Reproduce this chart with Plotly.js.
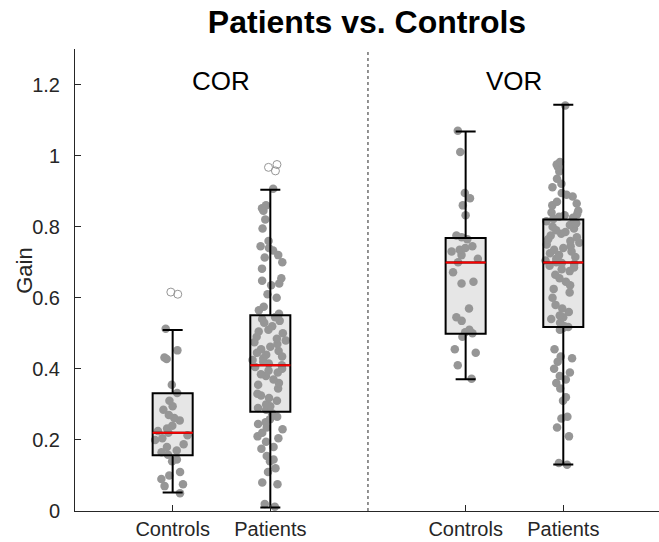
<!DOCTYPE html>
<html>
<head>
<meta charset="utf-8">
<script src="https://cdn.plot.ly/plotly-3.0.1.min.js"></script>
<style>html,body{margin:0;padding:0;background:#fff;}#chart{width:659px;height:542px;}</style>
</head>
<body>
<div id="chart"></div>
<script>
// ---- data ----
const positions = [1, 2, 4, 5];
const tickLabels = ['Controls', 'Patients', 'Controls', 'Patients'];
const groupLabels = ['COR', 'VOR'];
const groupCenters = [1.5, 4.5];
const dividerX = 3;
const yTicks = [0, 0.2, 0.4, 0.6, 0.8, 1, 1.2];
const yTickLabels = ['0', '0.2', '0.4', '0.6', '0.8', '1', '1.2'];

const boxQ1 = [0.157, 0.279, 0.499, 0.518];
const boxMedian = [0.220, 0.410, 0.699, 0.699];
const boxQ3 = [0.331, 0.551, 0.768, 0.820];
const boxLower = [0.052, 0.010, 0.371, 0.131];
const boxUpper = [0.509, 0.904, 1.068, 1.143];

const corControls = [0.513, 0.452, 0.432, 0.428, 0.355, 0.332, 0.31, 0.295, 0.285, 0.27, 0.262, 0.255, 0.24, 0.232, 0.225, 0.22, 0.213, 0.205, 0.2, 0.188, 0.18, 0.17, 0.165, 0.158, 0.145, 0.14, 0.11, 0.1, 0.09, 0.075, 0.07, 0.05];
const corPatients = [0.907, 0.86, 0.852, 0.845, 0.82, 0.795, 0.76, 0.745, 0.74, 0.733, 0.72, 0.713, 0.70, 0.682, 0.655, 0.648, 0.64, 0.635, 0.61, 0.60, 0.575, 0.565, 0.555,
  0.545, 0.54, 0.535, 0.53, 0.52, 0.51, 0.505, 0.50, 0.49, 0.485, 0.48, 0.475, 0.47, 0.462, 0.455, 0.45, 0.445, 0.44, 0.435, 0.43, 0.425, 0.42, 0.415, 0.41, 0.405, 0.40, 0.395, 0.39, 0.385, 0.38, 0.37, 0.36, 0.355, 0.345, 0.33, 0.325, 0.318, 0.31, 0.30, 0.295, 0.29, 0.285,
  0.275, 0.265, 0.258, 0.25, 0.245, 0.235, 0.23, 0.22, 0.21, 0.205, 0.195, 0.18, 0.175, 0.155, 0.145, 0.14, 0.12, 0.11, 0.08, 0.075, 0.02, 0.012];
const vorControls = [1.07, 1.01, 0.895, 0.88, 0.86, 0.832, 0.775, 0.77, 0.765, 0.745, 0.74, 0.735, 0.73, 0.72, 0.71, 0.70, 0.672, 0.645, 0.64, 0.57, 0.545, 0.535, 0.51, 0.503, 0.50, 0.49, 0.455, 0.445, 0.41, 0.372];
const vorPatients = [1.141, 0.982, 0.975, 0.968, 0.955, 0.935, 0.921, 0.911, 0.895, 0.89, 0.885, 0.87, 0.865, 0.86, 0.845, 0.84, 0.835, 0.832, 0.828, 0.825, 0.822,
  0.815, 0.81, 0.805, 0.80, 0.795, 0.79, 0.785, 0.78, 0.775, 0.77, 0.765, 0.76, 0.755, 0.75, 0.745, 0.74, 0.735, 0.73, 0.725, 0.72, 0.715, 0.71, 0.705, 0.70, 0.698, 0.695, 0.69, 0.685, 0.68, 0.675, 0.665, 0.655, 0.645, 0.635, 0.625, 0.615, 0.60, 0.58, 0.57, 0.56, 0.55, 0.545, 0.54, 0.53,
  0.52, 0.518, 0.515, 0.51, 0.455, 0.435, 0.43, 0.42, 0.40, 0.39, 0.38, 0.37, 0.36, 0.345, 0.32, 0.31, 0.265, 0.26, 0.235, 0.21, 0.135, 0.13];
const corControlsOutliers = [0.616, 0.610];
const corPatientsOutliers = [0.975, 0.967, 0.957];

const samples = [corControls, corPatients, vorControls, vorPatients];
const outliers = [corControlsOutliers, corPatientsOutliers, [], []];

// ---- style ----
const BOXW = 0.41;
const axisColor = '#262626';
const font = 'Liberation Sans, Arial, Helvetica, sans-serif';
const pointColor = 'rgb(150,150,150)';
const clear = 'rgba(0,0,0,0)';

const traces = [];
// box fill
traces.push({
  type: 'box', x: positions, q1: boxQ1, median: boxMedian, q3: boxQ3,
  lowerfence: boxLower, upperfence: boxUpper,
  width: BOXW, whiskerwidth: 0.5, fillcolor: 'rgb(230,230,230)',
  line: {color: clear, width: 0}, hoverinfo: 'skip', showlegend: false
});
// jittered points
samples.forEach((s, i) => {
  traces.push({
    type: 'box', x0: positions[i], y: s, width: BOXW,
    boxpoints: 'all', jitter: 0.9, pointpos: 0,
    fillcolor: clear, line: {color: clear, width: 0},
    marker: {color: pointColor, size: 8.5},
    hoverinfo: 'y', showlegend: false
  });
});
// outliers
outliers.forEach((s, i) => {
  if (!s.length) return;
  traces.push({
    type: 'box', x0: positions[i], y: s, width: BOXW,
    boxpoints: 'all', jitter: 0.3, pointpos: 0.1,
    fillcolor: clear, line: {color: clear, width: 0},
    marker: {color: pointColor, size: 8, symbol: 'circle-open', line: {width: 1, color: pointColor}},
    hoverinfo: 'y', showlegend: false
  });
});
// box outline + whiskers
traces.push({
  type: 'box', x: positions, q1: boxQ1, median: boxMedian, q3: boxQ3,
  lowerfence: boxLower, upperfence: boxUpper,
  width: BOXW, whiskerwidth: 0.5, fillcolor: clear,
  line: {color: '#000000', width: 2}, hoverinfo: 'skip', showlegend: false
});
// red median
traces.push({
  type: 'box', x: positions, q1: boxMedian, median: boxMedian, q3: boxMedian,
  lowerfence: boxMedian, upperfence: boxMedian,
  width: BOXW, whiskerwidth: 0, fillcolor: clear,
  line: {color: '#ff0000', width: 2}, hoverinfo: 'skip', showlegend: false
});

const annotations = groupLabels.map((t, i) => ({
  text: t, x: groupCenters[i], y: 1.21, xref: 'x', yref: 'y',
  showarrow: false, xanchor: 'center', yanchor: 'middle',
  font: {family: font, size: 26, color: '#000000'}
}));
// y-axis label
annotations.push({
  text: 'Gain', xref: 'paper', yref: 'paper', x: -0.0856, y: 0.52,
  textangle: -90, showarrow: false, xanchor: 'center', yanchor: 'middle',
  font: {family: font, size: 22, color: axisColor}
});

const layout = {
  width: 659, height: 542,
  margin: {l: 75, r: 0, t: 48.5, b: 31},
  paper_bgcolor: '#ffffff', plot_bgcolor: '#ffffff',
  boxmode: 'overlay',
  showlegend: false,
  font: {family: font, color: axisColor},
  title: {
    text: '<b>Patients vs. Controls</b>',
    font: {family: font, size: 32, color: '#000000'},
    x: 0.5, xref: 'paper', xanchor: 'center',
    y: 1 - 22 / 542, yref: 'container', yanchor: 'middle'
  },
  xaxis: {
    range: [0, 5.98], tickmode: 'array', tickvals: positions, ticktext: tickLabels,
    ticks: 'inside', ticklen: 6, tickwidth: 1, tickcolor: axisColor,
    showline: true, linecolor: axisColor, linewidth: 1,
    showgrid: false, zeroline: false,
    tickfont: {family: font, size: 20, color: axisColor}
  },
  yaxis: {
    range: [0, 1.3], tickmode: 'array', tickvals: yTicks, ticktext: yTickLabels,
    ticks: 'inside', ticklen: 6, tickwidth: 1, tickcolor: axisColor,
    showline: true, linecolor: axisColor, linewidth: 1,
    showgrid: false, zeroline: false,
    tickfont: {family: font, size: 20, color: axisColor},
    ticklabelstandoff: 10
  },
  shapes: [{
    type: 'line', xref: 'x', yref: 'y', x0: dividerX, x1: dividerX, y0: 0, y1: 1.3,
    line: {color: axisColor, width: 1, dash: 'dot'}
  }],
  annotations: annotations
};

Plotly.newPlot('chart', traces, layout, {displayModeBar: false, staticPlot: true});
</script>
</body>
</html>
